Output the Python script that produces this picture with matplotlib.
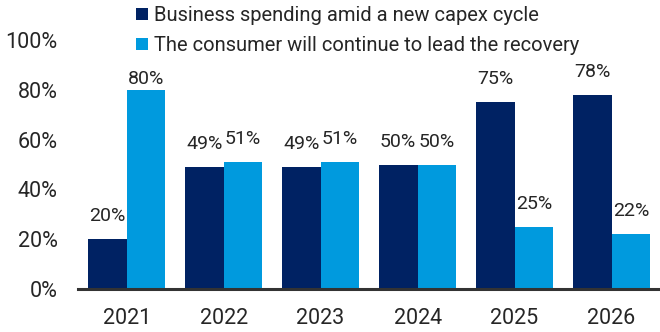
import matplotlib
matplotlib.use("Agg")
import matplotlib.pyplot as plt
from matplotlib.patches import Patch
import numpy as np

years = ["2021", "2022", "2023", "2024", "2025", "2026"]
business = [20, 49, 49, 50, 75, 78]
consumer = [80, 51, 51, 50, 25, 22]
series_names = [
    "Business spending amid a new capex cycle",
    "The consumer will continue to lead the recovery",
]
y_ticks = [0, 20, 40, 60, 80, 100]

NAVY = "#002263"
BLUE = "#009ADE"
TEXT = "#262626"

plt.rcParams["font.family"] = ["Roboto", "DejaVu Sans"]

fig = plt.figure(figsize=(6.6, 3.32), dpi=100)
ax = fig.add_axes([0.1185, 0.1295, 0.8815, 0.75])

x = np.arange(len(years))
w = 0.4
bars_b = ax.bar(x - w / 2, business, width=w, color=NAVY, edgecolor="none")
bars_c = ax.bar(x + w / 2, consumer, width=w, color=BLUE, edgecolor="none")

for bars, vals in ((bars_b, business), (bars_c, consumer)):
    for rect, v in zip(bars, vals):
        off = 1.5 if v >= 80 else 10
        ax.annotate(f"{v}%", (rect.get_x() + rect.get_width() / 2, v),
                    xytext=(0, off), textcoords="offset points",
                    ha="center", va="bottom", fontsize=14, color=TEXT)

ax.set_xlim(-0.5, len(years) - 0.5)
ax.set_ylim(0, 100)
ax.set_xticks(x)
ax.set_xticklabels(years)
ax.set_yticks(y_ticks)
ax.set_yticklabels([f"{t}%" for t in y_ticks])
ax.tick_params(axis="both", length=0, labelsize=15.5, colors=TEXT)
ax.tick_params(axis="y", pad=15)
ax.tick_params(axis="x", pad=14)

for side in ("left", "right", "top"):
    ax.spines[side].set_visible(False)
ax.spines["bottom"].set_color("#333333")
ax.spines["bottom"].set_linewidth(2.2)

handles = [Patch(facecolor=NAVY, edgecolor="none"),
           Patch(facecolor=BLUE, edgecolor="none")]
fig.legend(handles, series_names, loc="upper left",
           bbox_to_anchor=(136 / 660, 1 - 6 / 332),
           frameon=False, fontsize=14.5, handlelength=0.6, handleheight=0.6,
           handletextpad=0.3, labelspacing=0.55, borderpad=0, borderaxespad=0,
           labelcolor=TEXT)

fig.savefig("out.png", dpi=100)
